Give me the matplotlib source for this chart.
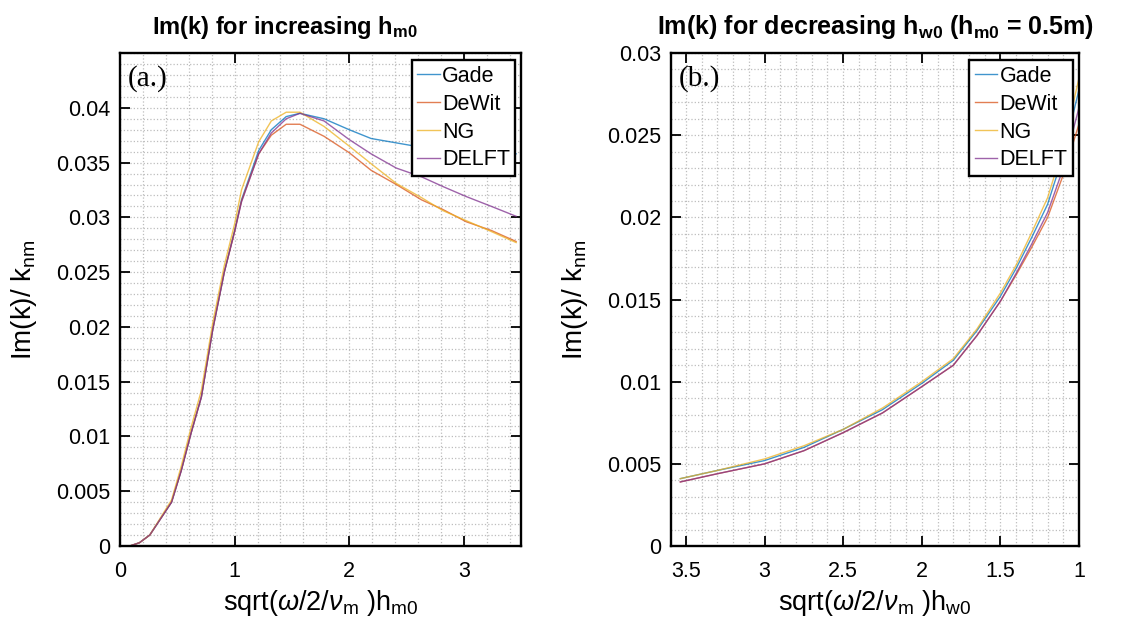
import numpy as np
import matplotlib
matplotlib.use('Agg')
import matplotlib.pyplot as plt
from matplotlib.ticker import MultipleLocator

plt.rcParams['font.family'] = ['Liberation Sans', 'DejaVu Sans']
plt.rcParams['mathtext.fontset'] = 'custom'
plt.rcParams['mathtext.rm'] = 'Liberation Sans'
plt.rcParams['mathtext.it'] = 'Liberation Sans:italic'
plt.rcParams['mathtext.bf'] = 'Liberation Sans:bold'

# (a.) increasing h_m0
x_a = [0.085, 0.17, 0.26, 0.45, 0.535, 0.62, 0.71, 0.81, 0.91, 1.0, 1.06, 1.21,
       1.32, 1.45, 1.57, 1.78, 2.0, 2.19, 2.41, 2.63, 2.82, 3.02, 3.24, 3.455]
gade_a = [0.0, 0.0003, 0.001, 0.004, 0.0069, 0.0103, 0.0136, 0.0198, 0.025, 0.0288,
          0.0316, 0.0361, 0.0380, 0.0392, 0.0395, 0.0390, 0.0380, 0.0372, 0.0368,
          0.0364, 0.0362, 0.0360, 0.0359, 0.0358]
dewit_a = [0.0, 0.0003, 0.001, 0.004, 0.0069, 0.0103, 0.0136, 0.0198, 0.025, 0.0287,
           0.0315, 0.0358, 0.0375, 0.0385, 0.0385, 0.0374, 0.0359, 0.0343, 0.0330,
           0.0316, 0.0307, 0.0296, 0.0288, 0.0278]
ng_a = [0.0, 0.0003, 0.001, 0.0042, 0.0073, 0.0108, 0.0142, 0.0204, 0.0256, 0.0294,
        0.0325, 0.0369, 0.0388, 0.0396, 0.0396, 0.0383, 0.0365, 0.0349, 0.0331,
        0.0318, 0.0306, 0.0297, 0.0287, 0.0277]
delft_a = [0.0, 0.0003, 0.001, 0.004, 0.0069, 0.0103, 0.0136, 0.0198, 0.025, 0.0287,
           0.0314, 0.0358, 0.0377, 0.0390, 0.0395, 0.0388, 0.0371, 0.0358, 0.0345,
           0.0337, 0.0328, 0.0319, 0.0310, 0.0301]

# (b.) decreasing h_w0 (h_m0 = 0.5 m)
x_b = [3.536, 3.3, 3.0, 2.75, 2.5, 2.25, 2.0, 1.8, 1.65, 1.5, 1.4, 1.3, 1.2, 1.1, 1.0]
gade_b = [0.0041, 0.0046, 0.0052, 0.0060, 0.0071, 0.0083, 0.0099, 0.0113, 0.0131,
          0.0152, 0.0169, 0.0188, 0.0208, 0.0238, 0.0278]
dewit_b = [0.0039, 0.0044, 0.0050, 0.0058, 0.0069, 0.0081, 0.0097, 0.0110, 0.0128,
           0.0149, 0.0165, 0.0182, 0.0200, 0.0226, 0.0257]
ng_b = [0.0041, 0.0046, 0.0053, 0.0061, 0.0071, 0.0084, 0.0100, 0.0114, 0.0132,
        0.0154, 0.0171, 0.0191, 0.0212, 0.0243, 0.0285]
delft_b = [0.0039, 0.0044, 0.0050, 0.0058, 0.0069, 0.0081, 0.0097, 0.0110, 0.0128,
           0.0149, 0.0166, 0.0184, 0.0203, 0.0230, 0.0267]

labels = ['Gade', 'DeWit', 'NG', 'DELFT']
colors = ['#0072BD', '#D95319', '#EDB120', '#7E2F8E']


def style_axes(ax, xminor, yminor):
    ax.xaxis.set_minor_locator(MultipleLocator(xminor))
    ax.yaxis.set_minor_locator(MultipleLocator(yminor))
    ax.grid(which='both', color='#bdbdbd', linestyle=':', linewidth=0.9)
    ax.set_axisbelow(True)
    ax.tick_params(which='major', direction='in', length=7, width=1.3,
                   top=True, right=True, labelsize=15.5)
    ax.tick_params(axis='x', which='major', pad=11)
    ax.tick_params(axis='y', which='major', pad=7)
    ax.tick_params(which='minor', length=0)
    for s in ax.spines.values():
        s.set_linewidth(1.7)
    ax.set_ylabel(r'Im(k)/ k$_{\rm nm}$', fontsize=20, labelpad=12)


def add_legend(ax):
    leg = ax.legend(loc='upper right', bbox_to_anchor=(0.985, 0.985), fontsize=15.5,
                    frameon=True, fancybox=False, framealpha=1, edgecolor='black',
                    handlelength=1.05, handletextpad=0.1, labelspacing=0.32,
                    borderpad=0.25, borderaxespad=0)
    leg.get_frame().set_linewidth(1.7)


fig = plt.figure(figsize=(11.21, 6.3), dpi=100)
ax1 = fig.add_axes([0.107, 0.1333, 0.358, 0.7825])
ax2 = fig.add_axes([0.5986, 0.1333, 0.364, 0.7825])

for ys, lab, c in zip([gade_a, dewit_a, ng_a, delft_a], labels, colors):
    ax1.plot(x_a, ys, color=c, lw=1.0, alpha=0.75, label=lab)
ax1.set_xlim(0, 3.5)
ax1.set_ylim(0, 0.045)
ax1.set_xticks([0, 1, 2, 3])
ax1.set_yticks(np.arange(0, 0.0401, 0.005))
ax1.set_yticklabels(['0', '0.005', '0.01', '0.015', '0.02', '0.025', '0.03', '0.035', '0.04'])
style_axes(ax1, 0.2, 0.001)
ax1.set_xlabel(r'sqrt($\omega$/2/$\nu_{\rm m}$ )h$_{\rm m0}$', fontsize=19.5, labelpad=4)
ax1.set_title(r'Im(k) for increasing h$_{\mathbf{m0}}$', fontsize=17, fontweight='bold', x=0.41, pad=14)
ax1.text(0.02, 0.975, '(a.)', transform=ax1.transAxes, va='top', ha='left',
         fontsize=21, family='Liberation Serif')
add_legend(ax1)

for ys, lab, c in zip([gade_b, dewit_b, ng_b, delft_b], labels, colors):
    ax2.plot(x_b, ys, color=c, lw=1.0, alpha=0.75, label=lab)
ax2.set_xlim(3.595, 1)
ax2.set_ylim(0, 0.03)
ax2.set_xticks([3.5, 3, 2.5, 2, 1.5, 1])
ax2.set_xticklabels(['3.5', '3', '2.5', '2', '1.5', '1'])
ax2.set_yticks(np.arange(0, 0.0301, 0.005))
ax2.set_yticklabels(['0', '0.005', '0.01', '0.015', '0.02', '0.025', '0.03'])
style_axes(ax2, 0.1, 0.001)
ax2.set_xlabel(r'sqrt($\omega$/2/$\nu_{\rm m}$ )h$_{\rm w0}$', fontsize=19.5, labelpad=4)
ax2.set_title(r'Im(k) for decreasing h$_{\mathbf{w0}}$ (h$_{\mathbf{m0}}$ = 0.5m)', fontsize=18, fontweight='bold', pad=14)
ax2.text(0.02, 0.975, '(b.)', transform=ax2.transAxes, va='top', ha='left',
         fontsize=21, family='Liberation Serif')
add_legend(ax2)

fig.savefig('out.png', dpi=100)
